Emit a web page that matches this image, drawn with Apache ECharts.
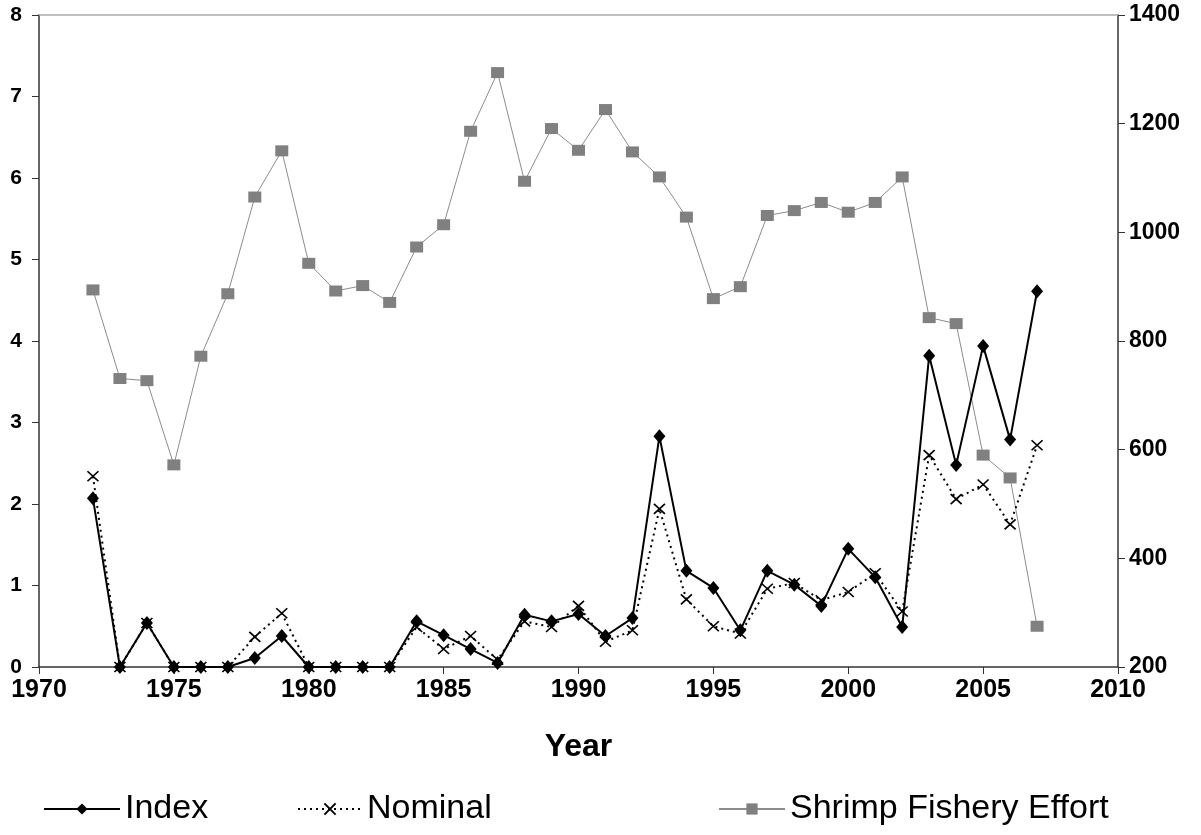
<!DOCTYPE html>
<html>
<head>
<meta charset="utf-8">
<script src="https://cdn.jsdelivr.net/npm/echarts@6/dist/echarts.min.js"></script>
<style>
html,body{margin:0;padding:0;background:#fff;}
#chart{width:1201px;height:835px;}
</style>
</head>
<body>
<div id="chart"></div>
<script>
// ---- data ----
var years = [1972,1973,1974,1975,1976,1977,1978,1979,1980,1981,1982,1983,1984,1985,1986,1987,1988,1989,1990,1991,1992,1993,1994,1995,1996,1997,1998,1999,2000,2001,2002,2003,2004,2005,2006,2007];
var indexValues = [2.07,0,0.54,0,0,0,0.11,0.38,0,0,0,0,0.56,0.39,0.22,0.05,0.64,0.56,0.65,0.38,0.60,2.83,1.18,0.97,0.45,1.18,1.01,0.75,1.45,1.10,0.49,3.82,2.48,3.94,2.79,4.61];
var nominalValues = [2.34,0,0.54,0,0,0,0.37,0.66,0,0,0,0,0.49,0.22,0.38,0.09,0.56,0.49,0.75,0.31,0.45,1.94,0.83,0.50,0.41,0.96,1.03,0.82,0.92,1.15,0.68,2.60,2.06,2.24,1.75,2.72];
var effortValues = [894,731,727,572,772,887,1065,1150,943,892,902,871,973,1014,1186,1294,1094,1191,1151,1226,1148,1102,1028,878,900,1031,1040,1055,1037,1055,1102,843,832,590,548,275];
var seriesNames = ['Index','Nominal','Shrimp Fishery Effort'];
var xAxisName = 'Year';

function pairs(vals){ return years.map(function(y,i){ return [y, vals[i]]; }); }
function plain(v){ return String(v); }

var FONT = '"Liberation Sans", Arial, sans-serif';
var chart = echarts.init(document.getElementById('chart'), null, {renderer:'canvas'});

var legendBase = {
  top: 787, itemHeight: 14,
  textStyle: {fontFamily: FONT, fontSize: 34, color: '#000'},
  selectedMode: false
};

chart.setOption({
  animation: false,
  backgroundColor: '#fff',
  grid: {left: 39, right: 83, top: 15, bottom: 168, containLabel: false},
  legend: [
    Object.assign({}, legendBase, {left: 38, itemWidth: 76, data: [seriesNames[0]]}),
    Object.assign({}, legendBase, {left: 292, itemWidth: 64, data: [seriesNames[1]]}),
    Object.assign({}, legendBase, {left: 713, itemWidth: 66, data: [seriesNames[2]]})
  ],
  xAxis: [{
    type: 'value', min: 1970, max: 2010, interval: 5,
    name: xAxisName, nameLocation: 'middle', nameGap: 64,
    nameTextStyle: {fontFamily: FONT, fontSize: 32, fontWeight: 'bold', color: '#000'},
    axisLine: {lineStyle: {color: '#333', width: 1.5}},
    axisTick: {inside: false, length: 7, lineStyle: {color: '#333'}},
    axisLabel: {fontFamily: FONT, fontSize: 25, fontWeight: 'bold', color: '#000', margin: 11, formatter: plain},
    splitLine: {show: false}
  },{
    type: 'value', min: 1970, max: 2010, position: 'top',
    axisLine: {show: true, lineStyle: {color: '#aaa', width: 1.5}},
    axisTick: {show: false}, axisLabel: {show: false}, splitLine: {show: false}
  }],
  yAxis: [{
    type: 'value', min: 0, max: 8, interval: 1, position: 'left',
    axisLine: {show: true, lineStyle: {color: '#333', width: 1.5}},
    axisTick: {show: true, length: 7, lineStyle: {color: '#333'}},
    axisLabel: {fontFamily: FONT, fontSize: 21, fontWeight: 'bold', color: '#000', margin: 17, formatter: plain},
    splitLine: {show: false}
  },{
    type: 'value', min: 200, max: 1400, interval: 200, position: 'right',
    axisLine: {show: true, lineStyle: {color: '#333', width: 1.5}},
    axisTick: {show: true, length: 7, lineStyle: {color: '#333'}},
    axisLabel: {fontFamily: FONT, fontSize: 23, fontWeight: 'bold', color: '#000', margin: 11, formatter: plain},
    splitLine: {show: false}
  }],
  series: [{
    name: seriesNames[0], type: 'line', yAxisIndex: 0, data: pairs(indexValues),
    symbol: 'diamond', symbolSize: [12, 14],
    lineStyle: {color: '#000', width: 2},
    itemStyle: {color: '#000'}, z: 4
  },{
    name: seriesNames[1], type: 'line', yAxisIndex: 0, data: pairs(nominalValues),
    symbol: 'path://M0,0L10,10M10,0L0,10', symbolSize: [11, 10],
    lineStyle: {color: '#000', width: 2, type: [2, 4]},
    itemStyle: {color: 'rgba(0,0,0,0)', borderColor: '#000', borderWidth: 1.6}, z: 3
  },{
    name: seriesNames[2], type: 'line', yAxisIndex: 1, data: pairs(effortValues),
    symbol: 'rect', symbolSize: [13, 11],
    lineStyle: {color: '#8c8c8c', width: 1},
    itemStyle: {color: '#808080'}, z: 2
  }]
});
</script>
</body>
</html>
